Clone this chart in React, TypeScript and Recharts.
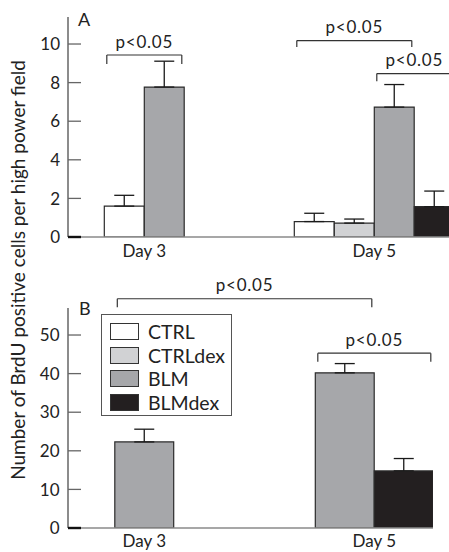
import {
  BarChart,
  Bar,
  XAxis,
  YAxis,
  Cell,
  ErrorBar,
  ReferenceLine,
  Legend,
} from "recharts";

// ---- data ----
const DAYS = [3, 5];
const GROUPS = ["CTRL", "CTRLdex", "BLM", "BLMdex"];

// A: BrdU positive cells per high power field, one entry per day (null = not shown)
const A_CTRL = [1.6, 0.8];
const A_CTRLDEX = [null, 0.72];
const A_BLM = [7.77, 6.73];
const A_BLMDEX = [null, 1.57];
const A_CTRL_SEM = [0.56, 0.43];
const A_CTRLDEX_SEM = [null, 0.21];
const A_BLM_SEM = [1.34, 1.17];
const A_BLMDEX_SEM = [null, 0.81];

// B: number of BrdU positive cells
const B_BLM = [22.3, 40.2];
const B_BLMDEX = [null, 14.8];
const B_BLM_SEM = [3.3, 2.4];
const B_BLMDEX_SEM = [null, 3.2];

const A_TICKS = [0, 2, 4, 6, 8, 10];
const B_TICKS = [0, 10, 20, 30, 40, 50];
const P_LABEL = "p<0.05";
const Y_LABEL = "Number of BrdU positive cells per high power field";

// ---- styles ----
const FONT = "Lato, 'DejaVu Sans', sans-serif";
const TEXT = "#222";
const FILL: Record<string, string> = {
  CTRL: "#ffffff",
  CTRLdex: "#d1d2d4",
  BLM: "#a6a7aa",
  BLMdex: "#231f20",
};

type Row = { x: number; group: string; value: number; sem: [number, number] };

// lay bars of each day side by side around the day value
function buildRows(
  means: Record<string, (number | null)[]>,
  sems: Record<string, (number | null)[]>,
  slot: number
): Row[] {
  const rows: Row[] = [];
  DAYS.forEach((day, d) => {
    const present = GROUPS.filter((g) => means[g] && means[g][d] != null);
    present.forEach((g, i) => {
      rows.push({
        x: day + (i - (present.length - 1) / 2) * slot,
        group: g,
        value: means[g][d] as number,
        sem: [0, (sems[g][d] as number) ?? 0],
      });
    });
  });
  return rows;
}

const PX_PER_DAY = 115;
const A_BAR = 40;
const B_BAR = 59;
const A_SLOT = A_BAR / PX_PER_DAY;
const B_SLOT = B_BAR / PX_PER_DAY;

const A_ROWS = buildRows(
  { CTRL: A_CTRL, CTRLdex: A_CTRLDEX, BLM: A_BLM, BLMdex: A_BLMDEX },
  { CTRL: A_CTRL_SEM, CTRLdex: A_CTRLDEX_SEM, BLM: A_BLM_SEM, BLMdex: A_BLMDEX_SEM },
  A_SLOT
);
const B_ROWS = buildRows(
  { BLM: B_BLM, BLMdex: B_BLMDEX },
  { BLM: B_BLM_SEM, BLMdex: B_BLMDEX_SEM },
  B_SLOT
);

// significance brackets: [day, group] to [day, group], level + leg in value units
type Bracket = { a: [number, string]; b: [number, string]; y: number; leg: number };
const A_BRACKETS: Bracket[] = [
  { a: [3, "CTRL"], b: [3, "BLM"], y: 9.43, leg: 0.46 },
  { a: [5, "CTRL"], b: [5, "BLM"], y: 10.18, leg: 0.34 },
  { a: [5, "BLM"], b: [5, "BLMdex"], y: 8.47, leg: 0.4 },
];
const B_BRACKETS: Bracket[] = [
  { a: [3, "BLM"], b: [5, "BLM"], y: 59.4, leg: 2.2 },
  { a: [5, "BLM"], b: [5, "BLMdex"], y: 45.3, leg: 2.2 },
];

function bracketLines(rows: Row[], slot: number, list: Bracket[], prefix: string) {
  const inset = 2.5 / PX_PER_DAY;
  const find = ([day, g]: [number, string]) =>
    rows.find((r) => r.group === g && Math.abs(r.x - day) < 1) as Row;
  const stroke = { stroke: "#333", strokeWidth: 1.2 };
  return list.flatMap((br, i) => {
    const x1 = find(br.a).x - slot / 2 + inset;
    const x2 = find(br.b).x + slot / 2 - inset;
    const lo = br.y - br.leg;
    return [
      <ReferenceLine
        key={`${prefix}-h${i}`}
        segment={[{ x: x1, y: br.y }, { x: x2, y: br.y }]}
        ifOverflow="visible"
        {...stroke}
        label={{
          value: P_LABEL,
          position: "top",
          offset: 7.5,
          fill: TEXT,
          fontSize: 17,
          fontFamily: FONT,
          letterSpacing: 0.8,
        }}
      />,
      <ReferenceLine
        key={`${prefix}-l${i}`}
        segment={[{ x: x1, y: br.y }, { x: x1, y: lo }]}
        ifOverflow="visible"
        {...stroke}
      />,
      <ReferenceLine
        key={`${prefix}-r${i}`}
        segment={[{ x: x2, y: br.y }, { x: x2, y: lo }]}
        ifOverflow="visible"
        {...stroke}
      />,
    ];
  });
}

// inward tick marks, labels to the left of the axis
const yTick = (axisX: number, len: number) => (props: any) => {
  const { x, y, payload } = props;
  const zero = payload.value === 0;
  return (
    <g>
      <line
        x1={axisX}
        x2={axisX + len}
        y1={y}
        y2={y}
        stroke={zero ? "#111" : "#666"}
        strokeWidth={zero ? 2.4 : 1.3}
      />
      <text
        x={x}
        y={y}
        dy="0.36em"
        textAnchor="end"
        fill={TEXT}
        fontSize={17}
        fontFamily={FONT}
      >
        {payload.value}
      </text>
    </g>
  );
};

const xTickStyle = { fill: TEXT, fontSize: 17, fontFamily: FONT };

function LegendBox() {
  const names = GROUPS;
  return (
    <div
      style={{
        position: "relative",
        width: 131,
        height: 102,
        boxSizing: "border-box",
        border: "1.3px solid #555",
        background: "#fff",
        fontFamily: FONT,
      }}
    >
      {names.map((n, i) => (
        <div
          key={n}
          style={{
            position: "absolute",
            left: 8,
            top: 8 + i * 23.5,
            height: 17,
            display: "flex",
            alignItems: "center",
          }}
        >
          <div
            style={{
              width: 29,
              height: 17,
              boxSizing: "border-box",
              border: "1px solid #333",
              background: FILL[n],
            }}
          />
          <span
            style={{
              marginLeft: 9,
              fontSize: 19.5,
              lineHeight: "17px",
              color: TEXT,
            }}
          >
            {n}
          </span>
        </div>
      ))}
    </div>
  );
}

function PanelA() {
  return (
    <BarChart
      width={449}
      height={270}
      data={A_ROWS}
      margin={{ top: 17, right: 0, bottom: 2, left: 0 }}
    >
      <XAxis
        type="number"
        dataKey="x"
        domain={[2.3365, 5.6496]}
        allowDataOverflow
        ticks={DAYS}
        tickCount={3}
        interval={0}
        tickFormatter={(d) => `Day ${d}`}
        height={31}
        tickSize={0}
        tickMargin={8}
        tickLine={false}
        axisLine={{ stroke: "#8a8a8a", strokeWidth: 1.5 }}
        tick={xTickStyle}
      />
      <YAxis
        type="number"
        domain={[0, 11.4]}
        allowDataOverflow
        ticks={A_TICKS}
        interval={0}
        width={68}
        tickSize={0}
        tickMargin={8}
        tickLine={false}
        axisLine={{ stroke: "#666", strokeWidth: 1.5 }}
        tick={yTick(68, 13)}
      />
      {/* a hair under the slot width, so recharts keeps adjacent bars touching */}
      <Bar
        dataKey="value"
        barSize={A_BAR - 0.1}
        stroke="#2b2b2b"
        strokeWidth={1.2}
        isAnimationActive={false}
      >
        {A_ROWS.map((r, i) => (
          <Cell key={`a-${i}`} fill={FILL[r.group]} />
        ))}
        <ErrorBar
          dataKey="sem"
          width={10}
          stroke="#1a1a1a"
          strokeWidth={1.3}
          direction="y"
          isAnimationActive={false}
        />
      </Bar>
      {bracketLines(A_ROWS, A_SLOT, A_BRACKETS, "a")}
    </BarChart>
  );
}

function PanelB() {
  return (
    <BarChart
      width={449}
      height={282}
      data={B_ROWS}
      margin={{ top: 38, right: 16, bottom: 2, left: 0 }}
    >
      <XAxis
        type="number"
        dataKey="x"
        domain={[2.3365, 5.5104]}
        allowDataOverflow
        ticks={DAYS}
        tickCount={3}
        interval={0}
        tickFormatter={(d) => `Day ${d}`}
        height={22}
        tickSize={0}
        tickMargin={7}
        tickLine={false}
        axisLine={{ stroke: "#8a8a8a", strokeWidth: 1.5 }}
        tick={xTickStyle}
      />
      <YAxis
        type="number"
        domain={[0, 57]}
        allowDataOverflow
        ticks={B_TICKS}
        interval={0}
        width={68}
        tickSize={0}
        tickMargin={8.5}
        tickLine={false}
        axisLine={{ stroke: "#666", strokeWidth: 1.5 }}
        tick={yTick(68, 13)}
      />
      <Bar
        dataKey="value"
        barSize={B_BAR - 0.1}
        stroke="#2b2b2b"
        strokeWidth={1.2}
        isAnimationActive={false}
      >
        {B_ROWS.map((r, i) => (
          <Cell key={`b-${i}`} fill={FILL[r.group]} />
        ))}
        <ErrorBar
          dataKey="sem"
          width={10}
          stroke="#1a1a1a"
          strokeWidth={1.3}
          direction="y"
          isAnimationActive={false}
        />
      </Bar>
      {bracketLines(B_ROWS, B_SLOT, B_BRACKETS, "b")}
      <Legend
        layout="vertical"
        align="center"
        verticalAlign="middle"
        wrapperStyle={{ left: 101, top: 44.3, width: 131, height: 102 }}
        content={() => <LegendBox />}
      />
    </BarChart>
  );
}

export default function App() {
  return (
    <div
      style={{
        position: "fixed",
        left: 0,
        top: 0,
        width: 449,
        height: 552,
        overflow: "hidden",
        background: "#fff",
      }}
    >
      <div style={{ position: "absolute", left: 0, top: 0 }}>
        <PanelA />
      </div>
      <div style={{ position: "absolute", left: 0, top: 270 }}>
        <PanelB />
      </div>
      <svg
        width={449}
        height={552}
        style={{ position: "absolute", left: 0, top: 0, pointerEvents: "none" }}
      >
        <text
          transform="translate(24.5 270) rotate(-90)"
          textAnchor="middle"
          fill={TEXT}
          fontSize={19}
          fontFamily={FONT}
        >
          {Y_LABEL}
        </text>
        <text x={78} y={26} fill={TEXT} fontSize={18} fontFamily={FONT}>
          A
        </text>
        <text x={79} y={315} fill={TEXT} fontSize={18} fontFamily={FONT}>
          B
        </text>
      </svg>
    </div>
  );
}
